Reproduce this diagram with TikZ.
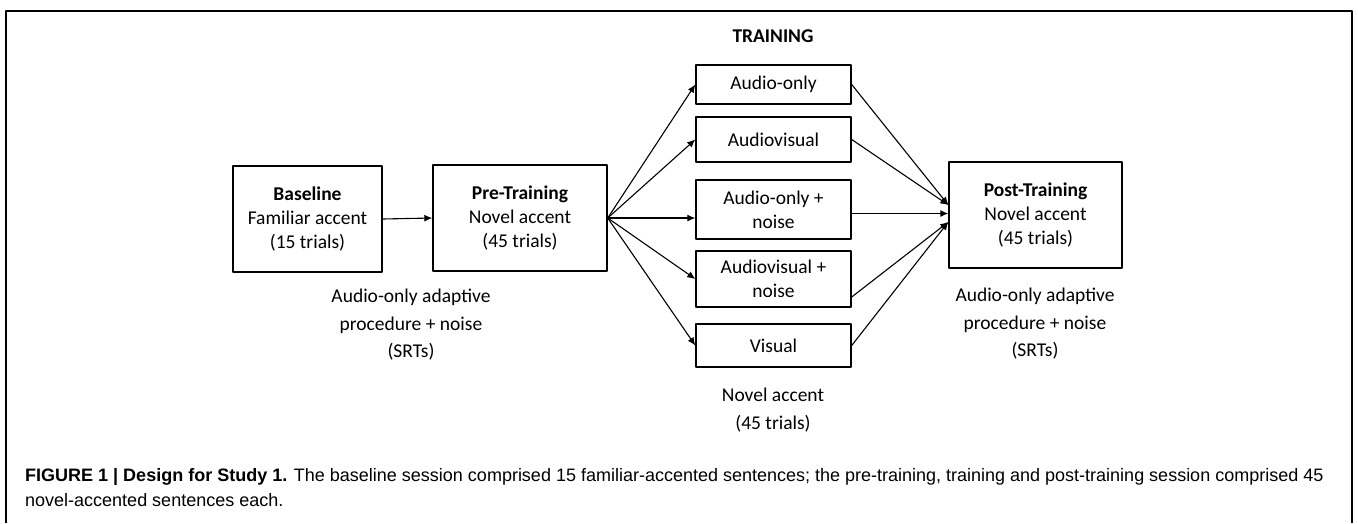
\documentclass[tikz,border=0pt]{standalone}
\usepackage{fontspec}
\setmainfont{Carlito}
\newfontfamily\capfont{Liberation Sans}
\usetikzlibrary{arrows.meta}
\begin{document}
\begin{tikzpicture}[x=1pt, y=-1pt, font=\fontsize{19.5}{24}\selectfont, line join=round, >={Latex[length=8pt,width=7pt]},
	box/.style={draw, line width=1.4pt, align=center, inner sep=0pt},
	note/.style={align=center, font=\fontsize{19.5}{27.5}\selectfont}]
	\useasboundingbox (0,0) rectangle (1358,523);
	\draw[line width=2.5pt] (6,523)--(6,11)--(1352,11)--(1352,523);
	\node[box, minimum width=149pt, minimum height=106pt] (base) at (307.5,219) {\textbf{Baseline}\\Familiar accent\\(15 trials)};
	\node[box, minimum width=174pt, minimum height=106pt] (pre) at (520,218) {\textbf{Pre-Training}\\Novel accent\\(45 trials)};
	\node[box, minimum width=173pt, minimum height=106pt] (post) at (1035.5,215) {\textbf{Post-Training}\\Novel accent\\(45 trials)};
	\node (title) at (773,36) {\textbf{TRAINING}};
	\foreach \n/\y/\h/\t in {ao/84.5/39/Audio-only, av/139.5/45/Audiovisual, aon/209.5/59/{Audio-only +\\noise}, avn/279/56/{Audiovisual +\\noise}, vis/345.5/43/Visual}
		\node[box, minimum width=155pt, minimum height=\h pt] (\n) at (773.5,\y) {\t};
	\begin{scope}[line width=1.1pt]
	\draw[->] (base.east)--(pre.west);
	\foreach \n in {ao,av,avn,vis} \draw[->] (pre.east)--(\n.west);
	\draw[->] (pre.east)--(pre.east -| aon.west);
	\draw[->] (ao.east)--([yshift=10pt]post.west);
	\draw[->] (av.east)--([yshift=10pt]post.west);
	\draw[->] ([yshift=-4pt]aon.east)--([yshift=-4pt]aon.east -| post.west);
	\draw[->] ([yshift=-18pt]avn.east)--([yshift=-7pt]post.west);
	\draw[->] (vis.east)--([yshift=-7pt]post.west);
	\end{scope}
	\node[note] (lnote) at (411,325) {Audio-only adaptive\\procedure + noise\\(SRTs)};
	\node[note] (rnote) at (1035,324) {Audio-only adaptive\\procedure + noise\\(SRTs)};
	\node[note] (tnote) at (773,410) {Novel accent\\(45 trials)};
	\node[anchor=west, align=left, inner sep=0pt, font=\capfont\fontsize{18}{25}\selectfont] (cap) at (25,487.5)
		{\textbf{FIGURE 1 | Design for Study 1.} The baseline session comprised 15 familiar-accented sentences; the pre-training, training and post-training session comprised 45\\novel-accented sentences each.};
\end{tikzpicture}
\end{document}
